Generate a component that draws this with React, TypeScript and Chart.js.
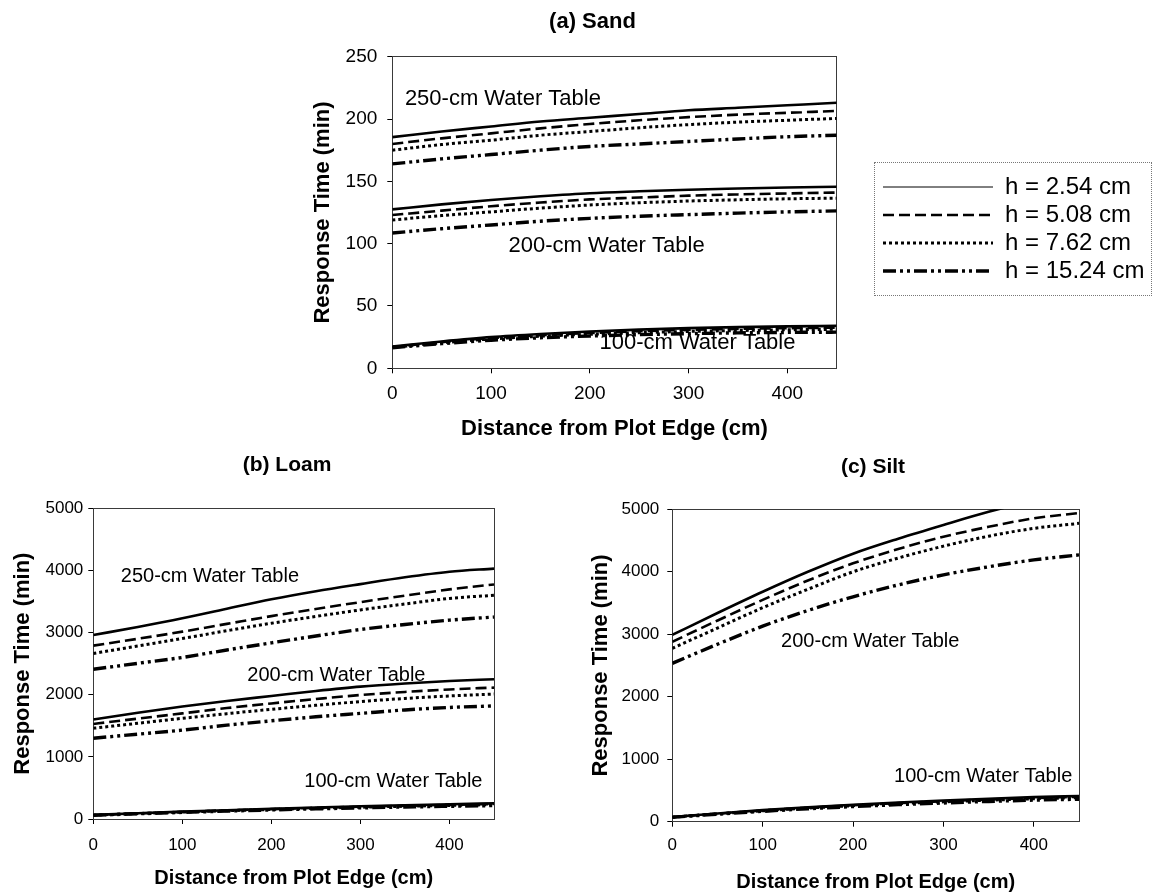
import React, { useEffect, useRef } from 'react';
import { Chart, registerables } from 'chart.js';

Chart.register(...registerables);

const FONT = "'Liberation Sans', Arial, Helvetica, sans-serif";

// ---------- data ----------
const DISTANCE = [0, 50, 100, 150, 200, 250, 300, 350, 400, 450];
const H_LABELS = ['h = 2.54 cm', 'h = 5.08 cm', 'h = 7.62 cm', 'h = 15.24 cm'];
const X_TITLE = 'Distance from Plot Edge (cm)';
const Y_TITLE = 'Response Time (min)';

// (a) Sand
const SAND_250_H254 = [185.5, 190, 194, 198, 201, 204, 207, 209, 211, 213];
const SAND_250_H508 = [180, 184.5, 188.5, 192.5, 196, 199, 201.5, 203.5, 205, 206.5];
const SAND_250_H762 = [175, 179.5, 183, 187, 190, 193, 195.5, 197.5, 199, 200.5];
const SAND_250_H1524 = [164, 168, 171.5, 175, 178, 180, 182, 184, 185.8, 187];
const SAND_200_H254 = [127.5, 131.5, 135, 138, 140.5, 142, 143.3, 144.2, 145, 145.7];
const SAND_200_H508 = [123, 126.5, 130, 133, 135.5, 137, 138.5, 139.5, 140.3, 141];
const SAND_200_H762 = [119, 122.5, 125.5, 128.5, 131, 132.8, 134.2, 135.2, 136, 136.5];
const SAND_200_H1524 = [108.5, 112, 115, 118, 120.3, 122, 123.3, 124.5, 125.5, 126.3];
const SAND_100_H254 = [17.5, 21.5, 25, 27.5, 29.5, 31, 32.2, 33, 33.6, 34];
const SAND_100_H508 = [17, 21, 24.2, 26.5, 28.3, 29.7, 30.8, 31.6, 32.2, 32.6];
const SAND_100_H762 = [16.8, 20.5, 23.5, 25.7, 27.3, 28.6, 29.6, 30.3, 30.9, 31.3];
const SAND_100_H1524 = [16.5, 19.8, 22.5, 24.5, 25.9, 27, 27.8, 28.4, 28.8, 29];

// (b) Loam
const LOAM_250_H254 = [2960, 3090, 3230, 3385, 3535, 3665, 3780, 3890, 3980, 4030];
const LOAM_250_H508 = [2790, 2900, 3015, 3140, 3265, 3380, 3490, 3595, 3695, 3775];
const LOAM_250_H762 = [2665, 2785, 2905, 3030, 3150, 3260, 3365, 3460, 3550, 3600];
const LOAM_250_H1524 = [2410, 2505, 2600, 2720, 2835, 2945, 3050, 3130, 3200, 3250];
const LOAM_200_H254 = [1600, 1710, 1810, 1900, 1980, 2060, 2130, 2180, 2220, 2250];
const LOAM_200_H508 = [1530, 1615, 1700, 1785, 1860, 1930, 1995, 2045, 2085, 2115];
const LOAM_200_H762 = [1460, 1540, 1620, 1695, 1765, 1830, 1890, 1940, 1980, 2010];
const LOAM_200_H1524 = [1300, 1365, 1430, 1510, 1580, 1645, 1700, 1755, 1795, 1820];
const LOAM_100_H254 = [65, 92, 118, 142, 165, 186, 205, 222, 238, 252];
const LOAM_100_H508 = [63, 89, 114, 137, 159, 179, 197, 213, 228, 241];
const LOAM_100_H762 = [62, 87, 111, 133, 154, 173, 190, 205, 219, 231];
const LOAM_100_H1524 = [60, 84, 106, 127, 146, 163, 179, 193, 205, 216];

// (c) Silt
const SILT_200_H254 = [2990, 3340, 3680, 4000, 4290, 4530, 4750, 4960, 5140, 5290];
const SILT_200_H508 = [2880, 3220, 3550, 3860, 4135, 4365, 4560, 4720, 4855, 4940];
const SILT_200_H762 = [2775, 3100, 3425, 3720, 4000, 4220, 4410, 4570, 4695, 4775];
const SILT_200_H1524 = [2535, 2840, 3130, 3380, 3600, 3790, 3950, 4080, 4190, 4270];
const SILT_100_H254 = [75, 132, 185, 232, 272, 308, 340, 368, 393, 412];
const SILT_100_H508 = [73, 128, 179, 224, 263, 297, 328, 355, 379, 397];
const SILT_100_H762 = [72, 125, 174, 218, 256, 289, 318, 344, 367, 384];
const SILT_100_H1524 = [70, 120, 166, 207, 242, 273, 300, 324, 345, 360];

// water-table annotations (data coordinates)
const SAND_LABEL_TEXT = ['250-cm Water Table', '200-cm Water Table', '100-cm Water Table'];
const SAND_LABEL_X = [112, 217, 309];
const SAND_LABEL_Y = [216, 98, 20];
const LOAM_LABEL_TEXT = ['250-cm Water Table', '200-cm Water Table', '100-cm Water Table'];
const LOAM_LABEL_X = [131, 273, 337];
const LOAM_LABEL_Y = [3900, 2317, 600];
const SILT_LABEL_TEXT = ['200-cm Water Table', '100-cm Water Table'];
const SILT_LABEL_X = [219, 344];
const SILT_LABEL_Y = [2881, 731];

// ---------- styles ----------
const LINE_WIDTHS = [2.6, 2.6, 3, 3.4];
const LEGEND_LINE_WIDTHS = [1, 2.6, 3, 3.4];
const LINE_DASHES: number[][] = [[], [11, 5], [3, 3], [13, 4, 3, 4, 3, 4]];

function series(values: number[], h: number) {
  return {
    label: H_LABELS[h],
    data: DISTANCE.map((x, i) => ({ x, y: values[i] })),
    borderColor: '#000',
    backgroundColor: '#000',
    borderWidth: LINE_WIDTHS[h],
    borderDash: LINE_DASHES[h],
    borderCapStyle: 'butt',
    pointRadius: 0,
    cubicInterpolationMode: 'monotone',
    fill: false,
    xAxisID: 'x',
    yAxisID: 'y',
  };
}

const waterTableLabels = {
  id: 'waterTableLabels',
  afterDatasetsDraw(chart: any, _args: any, opts: any) {
    const { ctx } = chart;
    const xs = chart.scales.x;
    const ys = chart.scales.y;
    ctx.save();
    ctx.font = `${opts.size}px ${FONT}`;
    ctx.fillStyle = '#000';
    ctx.textAlign = 'center';
    ctx.textBaseline = 'middle';
    opts.texts.forEach((t: string, i: number) => {
      ctx.fillText(t, xs.getPixelForValue(opts.xs[i]), ys.getPixelForValue(opts.ys[i]));
    });
    ctx.restore();
  },
};

interface PanelSpec {
  left: number; top: number; w: number; h: number;
  title: string; titleSize: number; titlePadTop: number;
  yMax: number; yStep: number;
  yLeft: number; yRight: number; xTop: number; xBottom: number;
  tickSize: number; xTickPad: number; yTickPad: number;
  xTitleSize: number; xTitlePad: number; yTitleSize: number; yTitlePad: number;
  labelSize: number; labelTexts: string[]; labelXs: number[]; labelYs: number[];
  datasets: any[];
}

const BORDER = { display: true, color: '#3a3a3a', width: 1 };

function buildConfig(p: PanelSpec): any {
  const tickFont = { size: p.tickSize, family: FONT };
  const grid = { display: true, drawOnChartArea: false, drawTicks: true, tickLength: 5, color: '#000', lineWidth: 1 };
  return {
    type: 'line',
    data: { datasets: p.datasets },
    plugins: [waterTableLabels],
    options: {
      responsive: false,
      animation: false,
      devicePixelRatio: 1,
      events: [],
      layout: { padding: 0 },
      scales: {
        x: {
          type: 'linear', position: 'bottom', min: 0, max: 450,
          ticks: { stepSize: 100, includeBounds: false, font: tickFont, color: '#000', padding: p.xTickPad, maxRotation: 0, callback: (v: any) => String(v) },
          grid, border: BORDER,
          title: { display: true, text: X_TITLE, color: '#000', font: { size: p.xTitleSize, weight: 'bold', family: FONT }, padding: { top: 0, bottom: p.xTitlePad } },
          afterFit: (s: any) => { s.height = p.xBottom; },
        },
        x2: {
          type: 'linear', position: 'top', min: 0, max: 450,
          ticks: { display: false }, grid: { display: false }, border: BORDER,
          afterFit: (s: any) => { s.height = p.xTop; },
        },
        y: {
          type: 'linear', position: 'left', min: 0, max: p.yMax,
          ticks: { stepSize: p.yStep, font: tickFont, color: '#000', padding: p.yTickPad, callback: (v: any) => String(v) },
          grid, border: BORDER,
          title: { display: true, text: Y_TITLE, color: '#000', font: { size: p.yTitleSize, weight: 'bold', family: FONT }, padding: { top: p.yTitlePad, bottom: 0 } },
          afterFit: (s: any) => { s.width = p.yLeft; },
        },
        y2: {
          type: 'linear', position: 'right', min: 0, max: p.yMax,
          ticks: { display: false }, grid: { display: false }, border: BORDER,
          afterFit: (s: any) => { s.width = p.yRight; },
        },
      },
      plugins: {
        legend: { display: false },
        tooltip: { enabled: false },
        title: {
          display: true, text: p.title, color: '#000',
          font: { size: p.titleSize, weight: 'bold', family: FONT },
          padding: { top: p.titlePadTop, bottom: 0 },
        },
        waterTableLabels: { size: p.labelSize, texts: p.labelTexts, xs: p.labelXs, ys: p.labelYs },
      },
    },
  };
}

const SAND: PanelSpec = {
  left: 290, top: 0, w: 605, h: 445,
  title: '(a) Sand', titleSize: 22, titlePadTop: 8.8,
  yMax: 250, yStep: 50,
  yLeft: 102.3, yRight: 58.3, xTop: 21.5, xBottom: 76.7,
  tickSize: 19, xTickPad: 9, yTickPad: 10,
  xTitleSize: 22, xTitlePad: 2.8, yTitleSize: 22, yTitlePad: 19.8,
  labelSize: 22, labelTexts: SAND_LABEL_TEXT, labelXs: SAND_LABEL_X, labelYs: SAND_LABEL_Y,
  datasets: [
    series(SAND_250_H254, 0), series(SAND_250_H508, 1), series(SAND_250_H762, 2), series(SAND_250_H1524, 3),
    series(SAND_200_H254, 0), series(SAND_200_H508, 1), series(SAND_200_H762, 2), series(SAND_200_H1524, 3),
    series(SAND_100_H254, 0), series(SAND_100_H508, 1), series(SAND_100_H762, 2), series(SAND_100_H1524, 3),
  ],
};

const LOAM: PanelSpec = {
  left: 0, top: 445, w: 574, h: 450,
  title: '(b) Loam', titleSize: 21, titlePadTop: 7.4,
  yMax: 5000, yStep: 1000,
  yLeft: 93.3, yRight: 80, xTop: 30.7, xBottom: 76,
  tickSize: 17, xTickPad: 11, yTickPad: 5,
  xTitleSize: 20, xTitlePad: 5, yTitleSize: 22, yTitlePad: 9.8,
  labelSize: 20, labelTexts: LOAM_LABEL_TEXT, labelXs: LOAM_LABEL_X, labelYs: LOAM_LABEL_Y,
  datasets: [
    series(LOAM_250_H254, 0), series(LOAM_250_H508, 1), series(LOAM_250_H762, 2), series(LOAM_250_H1524, 3),
    series(LOAM_200_H254, 0), series(LOAM_200_H508, 1), series(LOAM_200_H762, 2), series(LOAM_200_H1524, 3),
    series(LOAM_100_H254, 0), series(LOAM_100_H508, 1), series(LOAM_100_H762, 2), series(LOAM_100_H1524, 3),
  ],
};

const SILT: PanelSpec = {
  left: 580, top: 445, w: 586, h: 450,
  title: '(c) Silt', titleSize: 21, titlePadTop: 9.4,
  yMax: 5000, yStep: 1000,
  yLeft: 92.3, yRight: 87, xTop: 29.7, xBottom: 73.3,
  tickSize: 17, xTickPad: 8.4, yTickPad: 8,
  xTitleSize: 20, xTitlePad: 1, yTitleSize: 22, yTitlePad: 7.8,
  labelSize: 20, labelTexts: SILT_LABEL_TEXT, labelXs: SILT_LABEL_X, labelYs: SILT_LABEL_Y,
  datasets: [
    series(SILT_200_H254, 0), series(SILT_200_H508, 1), series(SILT_200_H762, 2), series(SILT_200_H1524, 3),
    series(SILT_100_H254, 0), series(SILT_100_H508, 1), series(SILT_100_H762, 2), series(SILT_100_H1524, 3),
  ],
};

function Panel({ spec }: { spec: PanelSpec }) {
  const ref = useRef<HTMLCanvasElement | null>(null);
  useEffect(() => {
    const chart = new Chart(ref.current as HTMLCanvasElement, buildConfig(spec));
    return () => chart.destroy();
  }, [spec]);
  return (
    <canvas
      ref={ref}
      width={spec.w}
      height={spec.h}
      style={{ position: 'absolute', left: spec.left, top: spec.top, width: spec.w, height: spec.h }}
    />
  );
}

function LegendBox() {
  const ref = useRef<HTMLCanvasElement | null>(null);
  useEffect(() => {
    const chart = new Chart(ref.current as HTMLCanvasElement, {
      type: 'line',
      data: {
        datasets: H_LABELS.map((label, h) => ({
          label,
          data: [],
          borderColor: '#000',
          borderWidth: LEGEND_LINE_WIDTHS[h],
          borderDash: LINE_DASHES[h],
        })),
      },
      options: {
        responsive: false,
        animation: false,
        devicePixelRatio: 1,
        events: [],
        layout: { padding: { left: 4, top: 0, bottom: 0, right: 0 } },
        scales: { x: { display: false }, y: { display: false } },
        plugins: {
          tooltip: { enabled: false },
          legend: {
            display: true,
            position: 'left',
            align: 'center',
            maxWidth: 270,
            labels: {
              usePointStyle: true,
              pointStyle: 'line',
              pointStyleWidth: 110,
              boxHeight: 24,
              padding: 4,
              color: '#000',
              font: { size: 24, family: FONT },
              generateLabels: (c: any) =>
                c.data.datasets.map((ds: any, i: number) => ({
                  text: ds.label,
                  fillStyle: '#000',
                  strokeStyle: '#000',
                  fontColor: '#000',
                  lineWidth: ds.borderWidth,
                  lineDash: ds.borderDash,
                  lineCap: 'butt',
                  pointStyle: 'line',
                  hidden: false,
                  datasetIndex: i,
                })),
            },
          },
        },
      } as any,
    } as any);
    return () => chart.destroy();
  }, []);
  return (
    <div
      style={{
        position: 'absolute', left: 874, top: 162, width: 278, height: 134,
        border: '1px dotted #777', boxSizing: 'border-box',
      }}
    >
      <canvas ref={ref} width={276} height={132} style={{ display: 'block', width: 276, height: 132 }} />
    </div>
  );
}

export default function App() {
  return (
    <div
      style={{
        position: 'absolute', left: 0, top: 0, width: 1152, height: 895,
        overflow: 'hidden', background: '#fff',
      }}
    >
      <Panel spec={SAND} />
      <Panel spec={LOAM} />
      <Panel spec={SILT} />
      <LegendBox />
    </div>
  );
}
